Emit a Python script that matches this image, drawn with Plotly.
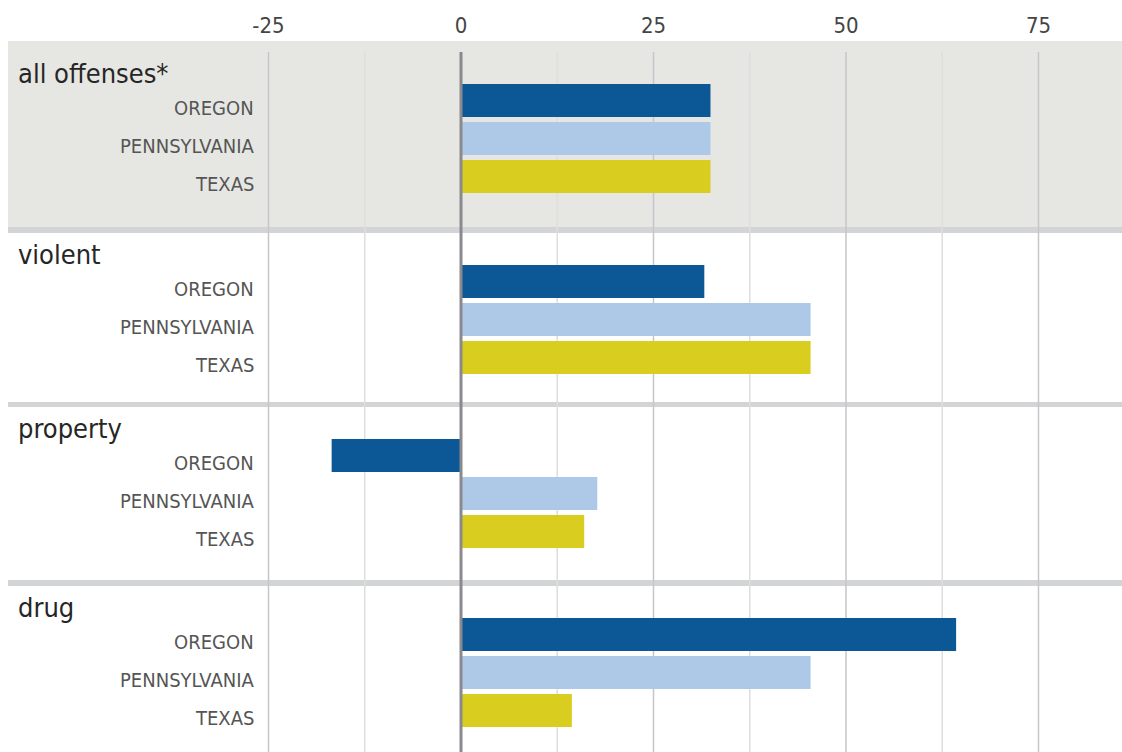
import plotly.graph_objects as go

# ---- data ----
groups = ["all offenses*", "violent", "property", "drug"]
states = ["OREGON", "PENNSYLVANIA", "TEXAS"]
oregon = [32.4, 31.6, -16.8, 64.3]
pennsylvania = [32.4, 45.4, 17.7, 45.4]
texas = [32.4, 45.4, 16.0, 14.4]
tick_values = [-25, 0, 25, 50, 75]
minor_values = [-12.5, 12.5, 37.5, 62.5]

series = [oregon, pennsylvania, texas]
colors = ["#0c5896", "#aec9e8", "#d9ce1f"]

# ---- layout constants (y axis in page-pixel units) ----
W, H = 1122, 752
TOP = 41
LEFT = 8
section_content_top = [52, 233, 407, 586]
first_bar_offset = 48.5
bar_pitch = 38
bar_height = 33
x_zero_px = 461
px_per_unit = 7.7
x_min = (LEFT - x_zero_px) / px_per_unit
x_max = (W - x_zero_px) / px_per_unit

FONT = "DejaVu Sans Condensed, Liberation Sans Narrow, sans-serif"


def paper_x(px):
    return (px - LEFT) / (W - LEFT)


fig = go.Figure()

for s_idx, (state, vals, col) in enumerate(zip(states, series, colors)):
    ys = [section_content_top[g] + first_bar_offset + s_idx * bar_pitch for g in range(len(groups))]
    fig.add_trace(go.Bar(
        x=vals, y=ys, orientation="h", width=bar_height,
        marker=dict(color=col, line=dict(width=0)),
        name=state, showlegend=False, hoverinfo="x",
    ))

shapes = []
shapes.append(dict(type="rect", xref="paper", yref="y", x0=0, x1=1, y0=TOP, y1=227,
                   fillcolor="#e6e7e3", line=dict(width=0), layer="below"))
for v in minor_values:
    shapes.append(dict(type="line", xref="x", yref="y", x0=v, x1=v, y0=52, y1=H,
                       line=dict(color="#dedede", width=1.5), layer="below"))
for v in tick_values:
    if v == 0:
        continue
    shapes.append(dict(type="line", xref="x", yref="y", x0=v, x1=v, y0=52, y1=H,
                       line=dict(color="#c6c6c8", width=1.5), layer="below"))
for y0, y1 in [(227, 233), (402, 407), (580, 586)]:
    shapes.append(dict(type="rect", xref="paper", yref="y", x0=0, x1=1, y0=y0, y1=y1,
                       fillcolor="#d3d4d6", line=dict(width=0), layer="below"))
shapes.append(dict(type="line", xref="x", yref="y", x0=0, x1=0, y0=52, y1=H,
                   line=dict(color="#8a8a8e", width=3), layer="above"))

annotations = []
for g, name in enumerate(groups):
    base = section_content_top[g] + first_bar_offset
    annotations.append(dict(text=name, xref="paper", yref="y",
                            x=paper_x(16), y=base - 27,
                            xanchor="left", yanchor="middle", showarrow=False,
                            font=dict(family=FONT, size=27, color="#262626")))
    for s_idx, state in enumerate(states):
        annotations.append(dict(text=state, xref="paper", yref="y",
                                x=paper_x(256),
                                y=base + s_idx * bar_pitch + 7,
                                xanchor="right", yanchor="middle", showarrow=False,
                                font=dict(family=FONT, size=20, color="#555555")))

fig.update_layout(
    width=W, height=H,
    margin=dict(l=LEFT, r=0, t=TOP, b=0),
    paper_bgcolor="white", plot_bgcolor="rgba(0,0,0,0)",
    barmode="overlay",
    shapes=shapes, annotations=annotations,
    xaxis=dict(range=[x_min, x_max], side="top", tickvals=tick_values,
               ticktext=[str(v) for v in tick_values], showgrid=False,
               zeroline=False, showline=False, ticks="", ticklabelstandoff=3,
               tickfont=dict(family=FONT, size=22, color="#444444")),
    yaxis=dict(range=[H, TOP], visible=False, showgrid=False, zeroline=False),
)

fig.write_html(
    "out.html",
    config={"displayModeBar": False},
    post_script="document.body.style.margin='0';document.body.style.overflow='hidden';",
)
